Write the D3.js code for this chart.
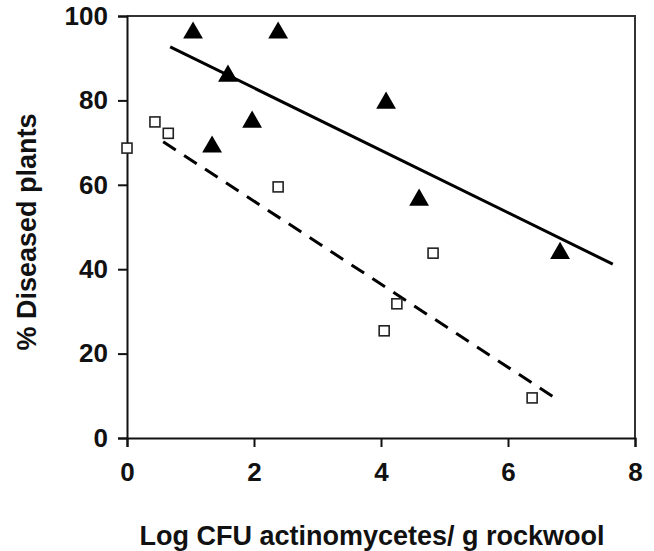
<!DOCTYPE html>
<html>
<head>
<meta charset="utf-8">
<script src="https://cdn.jsdelivr.net/npm/d3@7"></script>
<style>
body { margin: 0; background: #fff; }
text { font-family: "Liberation Sans", Arial, sans-serif; font-weight: bold; }
</style>
</head>
<body>
<div id="chart"></div>
<script>
// treated (triangles) and control (squares) observations
var triX = [1.04, 2.38, 1.59, 1.97, 1.34, 4.08, 4.6, 6.82];
var triY = [96, 96, 85.8, 74.9, 69, 79.4, 56.4, 43.8];
var sqX = [0, 0.44, 0.65, 2.38, 4.82, 4.25, 4.05, 6.38];
var sqY = [68.7, 74.9, 72.2, 59.5, 43.8, 31.8, 25.4, 9.5];
// regression line ends
var solidX = [0.68, 7.65];
var solidY = [92.7, 41.2];
var dashX = [0.57, 6.79];
var dashY = [70.2, 9.0];
var xTicks = [0, 2, 4, 6, 8];
var yTicks = [0, 20, 40, 60, 80, 100];

var w = 654, h = 551;
var svg = d3.select('#chart').append('svg')
	.attr('width', w)
	.attr('height', h);

var x = d3.scaleLinear().domain([0, 8]).range([127, 635]);
var y = d3.scaleLinear().domain([0, 100]).range([438, 16]);

// frame top and right
svg.append('path')
	.attr('d', 'M' + x(0) + ',' + y(100) + 'H' + x(8) + 'V' + y(0))
	.attr('fill', 'none')
	.attr('stroke', '#333')
	.attr('stroke-width', 2);

var xAxis = svg.append('g')
	.attr('transform', 'translate(0,' + y(0) + ')')
	.call(d3.axisBottom(x).tickValues(xTicks).tickSize(9).tickPadding(16).tickFormat(d3.format('d')));
var yAxis = svg.append('g')
	.attr('transform', 'translate(' + x(0) + ',0)')
	.call(d3.axisLeft(y).tickValues(yTicks).tickSize(9).tickPadding(10).tickFormat(d3.format('d')));

[xAxis, yAxis].forEach(function(g){
	g.select('.domain').attr('stroke', '#111').attr('stroke-width', 2);
	g.selectAll('.tick line').attr('stroke', '#111').attr('stroke-width', 2);
	g.selectAll('.tick text').attr('fill', '#111').style('font-size', '26px');
});

var line = d3.line()
	.x(function(d){ return x(d[0]); })
	.y(function(d){ return y(d[1]); });

svg.append('path')
	.datum(d3.zip(solidX, solidY))
	.attr('d', line)
	.attr('fill', 'none')
	.attr('stroke', '#000')
	.attr('stroke-width', 3);

svg.append('path')
	.datum(d3.zip(dashX, dashY))
	.attr('d', line)
	.attr('fill', 'none')
	.attr('stroke', '#000')
	.attr('stroke-width', 3)
	.attr('stroke-dasharray', '15,10');

var tri = d3.symbol().type(d3.symbolTriangle).size(170);
svg.selectAll('.tri')
	.data(d3.zip(triX, triY))
	.enter()
	.append('path')
	.attr('class', 'tri')
	.attr('d', tri)
	.attr('transform', function(d){ return 'translate(' + x(d[0]) + ',' + y(d[1]) + ')'; })
	.attr('fill', '#000');

svg.selectAll('.sq')
	.data(d3.zip(sqX, sqY))
	.enter()
	.append('rect')
	.attr('class', 'sq')
	.attr('x', function(d){ return x(d[0]) - 5; })
	.attr('y', function(d){ return y(d[1]) - 5; })
	.attr('width', 10)
	.attr('height', 10)
	.attr('fill', '#fff')
	.attr('stroke', '#222')
	.attr('stroke-width', 1.6);

svg.append('text')
	.attr('x', 372)
	.attr('y', 545)
	.attr('text-anchor', 'middle')
	.style('font-size', '27px')
	.attr('fill', '#111')
	.text('Log CFU actinomycetes/ g rockwool');

svg.append('text')
	.attr('transform', 'translate(36,232) rotate(-90)')
	.attr('text-anchor', 'middle')
	.style('font-size', '27px')
	.attr('fill', '#111')
	.text('% Diseased plants');
</script>
</body>
</html>
